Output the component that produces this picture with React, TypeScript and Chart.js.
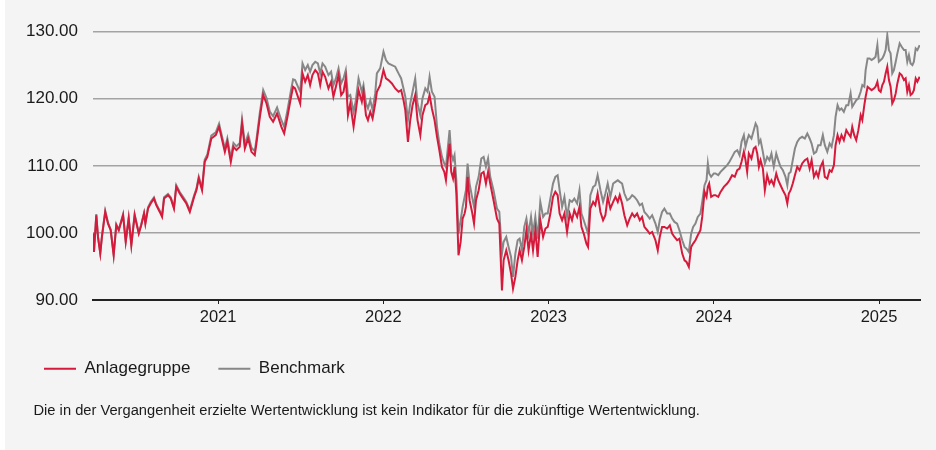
import React, { useEffect, useRef } from "react";
import { Chart, registerables } from "chart.js";

Chart.register(...registerables);

// x positions in decimal years (end of March 2020 .. end of March 2025)
const years: number[] = [
  2020.243, 2020.249, 2020.263, 2020.273, 2020.287, 2020.297, 2020.317, 2020.334, 2020.35, 2020.368,
  2020.384, 2020.399, 2020.425, 2020.441, 2020.459, 2020.475, 2020.495, 2020.52, 2020.535, 2020.552,
  2020.56, 2020.576, 2020.592, 2020.612, 2020.626, 2020.647, 2020.661, 2020.673, 2020.697, 2020.714,
  2020.733, 2020.747, 2020.768, 2020.788, 2020.808, 2020.829, 2020.855, 2020.869, 2020.883, 2020.903,
  2020.919, 2020.935, 2020.959, 2020.986, 2021.006, 2021.02, 2021.041, 2021.056, 2021.077, 2021.093,
  2021.111, 2021.131, 2021.145, 2021.162, 2021.182, 2021.202, 2021.222, 2021.232, 2021.253, 2021.273,
  2021.293, 2021.313, 2021.333, 2021.357, 2021.383, 2021.4, 2021.42, 2021.44, 2021.454,
  2021.466, 2021.497, 2021.511, 2021.527, 2021.543, 2021.557, 2021.571, 2021.588, 2021.604, 2021.618,
  2021.632, 2021.648, 2021.668, 2021.684, 2021.698, 2021.713, 2021.729, 2021.745, 2021.759, 2021.773,
  2021.786, 2021.8, 2021.82, 2021.834, 2021.85, 2021.87, 2021.88, 2021.895, 2021.907, 2021.921,
  2021.935, 2021.951, 2021.961, 2021.981, 2022.001, 2022.016, 2022.031, 2022.052, 2022.072, 2022.092,
  2022.108, 2022.122, 2022.133, 2022.149, 2022.163, 2022.177, 2022.193, 2022.207, 2022.224, 2022.237,
  2022.254, 2022.268, 2022.28, 2022.294, 2022.31, 2022.325, 2022.339, 2022.355, 2022.369, 2022.379,
  2022.391, 2022.401, 2022.411, 2022.422, 2022.431, 2022.442, 2022.455, 2022.468, 2022.48, 2022.492,
  2022.5, 2022.51, 2022.522, 2022.537, 2022.549, 2022.561, 2022.577, 2022.593, 2022.607, 2022.621,
  2022.634, 2022.647, 2022.667, 2022.688, 2022.702,
  2022.718, 2022.728, 2022.744, 2022.758, 2022.773, 2022.785, 2022.799, 2022.813, 2022.825, 2022.839,
  2022.853, 2022.866, 2022.879, 2022.894, 2022.906, 2022.92, 2022.934, 2022.95, 2022.967, 2022.981,
  2022.995, 2023.011, 2023.027, 2023.041, 2023.055, 2023.067, 2023.082, 2023.096, 2023.112, 2023.128,
  2023.142, 2023.156, 2023.173, 2023.187, 2023.199, 2023.213, 2023.229, 2023.239, 2023.253, 2023.27,
  2023.283, 2023.297, 2023.314, 2023.33, 2023.344, 2023.358, 2023.374, 2023.391, 2023.405, 2023.419,
  2023.431, 2023.445, 2023.459, 2023.476, 2023.491, 2023.506, 2023.52, 2023.536, 2023.552, 2023.566,
  2023.58, 2023.597, 2023.612, 2023.627, 2023.647, 2023.661, 2023.673, 2023.687, 2023.701, 2023.718,
  2023.734, 2023.748, 2023.762, 2023.778, 2023.792, 2023.809, 2023.823, 2023.835, 2023.849, 2023.863,
  2023.875, 2023.889, 2023.903, 2023.919, 2023.93, 2023.944, 2023.956, 2023.964, 2023.972, 2023.984,
  2024.0,
  2024.01, 2024.027, 2024.041, 2024.061, 2024.081, 2024.095, 2024.111, 2024.127, 2024.142, 2024.156,
  2024.168, 2024.182, 2024.192, 2024.202, 2024.212, 2024.228, 2024.242, 2024.253, 2024.263, 2024.273,
  2024.283, 2024.297, 2024.309, 2024.323, 2024.337, 2024.349, 2024.363, 2024.378, 2024.39, 2024.404,
  2024.418, 2024.434, 2024.445, 2024.454, 2024.465, 2024.478, 2024.491, 2024.505, 2024.519, 2024.535,
  2024.551, 2024.566, 2024.58, 2024.592, 2024.606, 2024.62, 2024.632, 2024.646, 2024.66, 2024.672,
  2024.687, 2024.701, 2024.713, 2024.727, 2024.737, 2024.749, 2024.761, 2024.773, 2024.787, 2024.802,
  2024.814, 2024.828, 2024.838, 2024.85, 2024.862, 2024.875, 2024.889, 2024.899, 2024.911, 2024.919,
  2024.931, 2024.943, 2024.955, 2024.969, 2024.979, 2024.99, 2024.999, 2025.01, 2025.02, 2025.03,
  2025.04, 2025.05, 2025.06, 2025.07, 2025.08, 2025.09, 2025.101, 2025.111, 2025.125, 2025.137,
  2025.151, 2025.161, 2025.171, 2025.181, 2025.191, 2025.202, 2025.211, 2025.222, 2025.232, 2025.246,
];

const anlagegruppe: number[] = [
  99.9, 97.16, 102.64, 99.4, 96.92, 99.4, 103.13, 101.39, 100.4, 96.67,
  101.14, 100.4, 102.64, 98.66, 102.14, 98.16, 102.64, 99.9, 101.14, 102.89,
  101.39, 103.63, 104.38, 105.12, 104.13, 103.13, 102.39, 105.12, 105.62, 105.12,
  103.63, 106.87, 105.87, 105.12, 104.38, 103.13, 105.37, 106.37, 108.11, 106.37,
  110.6, 111.34, 114.08, 114.58, 115.82, 114.33, 112.09, 113.58, 110.6, 112.84,
  112.34, 112.84, 116.32, 112.59, 114.08, 112.09, 111.59, 113.33, 117.31, 120.55,
  119.3, 117.31, 116.57, 117.81, 115.82, 114.83, 117.31, 120.05, 121.79,
  121.54, 119.3, 123.78, 122.54, 123.53, 122.04, 123.53, 124.28, 123.78, 122.04,
  124.03, 123.28, 121.54, 122.54, 120.3, 121.79, 123.53, 120.55, 121.04, 123.03,
  117.56, 119.3, 115.82, 118.31, 121.29, 119.55, 121.04, 117.56, 116.82, 118.06,
  117.06, 119.3, 121.04, 122.04, 124.28, 123.03, 122.79, 122.29, 121.54, 121.04,
  121.29, 119.8, 118.31, 113.58, 116.82, 119.05, 120.55, 116.82, 114.58, 117.56,
  119.05, 119.3, 120.55, 118.56, 116.82, 114.33, 112.34, 109.85, 109.1, 107.86,
  111.09, 113.33, 109.1, 108.11, 109.85, 105.87, 96.67, 98.66, 102.14, 102.89,
  103.88, 108.36, 104.88, 103.13, 101.39, 104.88, 106.37, 108.86, 109.1, 107.36,
  109.1, 107.36, 104.88, 102.14, 101.39,
  91.44, 95.92, 97.41, 95.92, 93.93, 91.69, 93.43, 95.92, 97.41, 95.92,
  97.91, 100.4, 97.41, 99.9, 97.41, 100.4, 96.42, 101.89, 99.4, 100.65,
  100.9, 102.89, 105.37, 106.12, 105.62, 102.89, 101.89, 102.89, 100.15, 102.89,
  101.89, 103.38, 102.39, 103.88, 100.9, 99.9, 98.41, 97.91, 103.63, 104.63,
  104.13, 105.87, 103.13, 101.89, 102.64, 105.37, 103.63, 104.63, 105.37, 104.63,
  105.62, 104.38, 102.64, 101.14, 102.14, 102.89, 102.39, 102.89, 101.89, 102.39,
  100.9, 100.4, 99.9, 100.15, 98.91, 97.41, 99.4, 100.9, 100.9, 100.65,
  101.14, 99.9, 99.4, 98.91, 99.15, 96.92, 95.92, 95.67, 94.93, 97.91,
  98.41, 98.91, 99.65, 100.4, 102.39, 106.12, 105.37, 106.87, 107.36, 105.37,
  105.62,
  105.62, 105.37, 106.12, 106.87, 107.36, 107.86, 108.61, 108.36, 109.35, 109.6,
  110.6, 112.09, 110.85, 109.1, 111.84, 111.09, 112.59, 112.84, 111.84, 109.85,
  110.85, 109.6, 106.37, 108.61, 107.36, 107.86, 107.11, 108.86, 107.86, 107.11,
  106.37, 105.62, 104.38, 105.87, 106.37, 107.36, 108.61, 109.85, 109.35, 110.35,
  110.85, 111.09, 109.6, 110.85, 108.36, 109.1, 108.36, 109.85, 110.6, 108.36,
  108.11, 109.35, 109.1, 110.1, 113.08, 114.58, 113.58, 114.58, 113.83, 115.32,
  114.83, 114.33, 115.82, 114.58, 113.83, 115.32, 117.56, 116.82, 119.05, 120.3,
  121.79, 121.54, 121.29, 121.54, 121.79, 122.54, 121.29, 121.04, 122.04, 122.54,
  123.78, 124.78, 122.79, 121.79, 119.3, 119.8, 120.8, 122.29, 123.78, 123.53,
  122.79, 123.03, 121.04, 122.04, 120.55, 120.8, 121.29, 123.03, 122.54, 123.28,
];

const benchmark: number[] = [
  100.0, 97.3, 102.8, 99.5, 97.0, 99.5, 103.3, 101.5, 100.5, 96.8,
  101.3, 100.5, 102.8, 98.8, 102.3, 98.3, 102.8, 100.0, 101.3, 103.0,
  101.5, 103.8, 104.6, 105.3, 104.3, 103.3, 102.6, 105.3, 105.8, 105.3,
  103.8, 107.1, 106.1, 105.4, 104.6, 103.4, 105.6, 106.6, 108.4, 106.7,
  110.9, 111.7, 114.5, 115.0, 116.3, 114.8, 112.6, 114.1, 111.2, 113.4,
  112.9, 113.4, 116.9, 113.2, 114.7, 112.7, 112.2, 113.9, 118.0, 121.3,
  120.1, 118.1, 117.4, 118.7, 116.8, 115.8, 118.3, 121.1, 122.9,
  122.79, 121.04, 125.27, 124.28, 125.02, 124.03, 125.02, 125.52, 125.27, 123.78,
  125.27, 124.78, 123.53, 124.03, 122.04, 123.03, 124.53, 122.29, 123.03, 124.28,
  120.3, 120.55, 118.06, 119.8, 123.03, 121.04, 122.04, 119.3, 118.56, 119.8,
  118.31, 120.8, 123.78, 124.53, 127.01, 125.77, 125.27, 125.02, 124.78, 123.78,
  123.03, 121.54, 120.3, 116.82, 119.3, 121.04, 123.03, 119.3, 117.56, 120.05,
  121.54, 121.04, 123.28, 121.04, 120.3, 115.82, 113.33, 111.34, 110.35, 109.85,
  112.84, 115.32, 111.84, 110.85, 111.59, 107.86, 99.9, 101.89, 103.88, 105.37,
  106.37, 110.35, 107.36, 105.37, 103.88, 106.87, 108.36, 111.09, 111.34, 109.85,
  111.09, 108.36, 106.37, 103.63, 103.13,
  96.92, 98.66, 99.4, 97.91, 96.42, 93.43, 96.92, 98.91, 99.15, 97.41,
  100.9, 102.14, 99.9, 102.39, 99.9, 102.39, 99.15, 104.63, 102.39, 102.89,
  102.89, 105.12, 107.36, 108.36, 108.61, 106.37, 103.88, 105.37, 102.39, 104.88,
  104.63, 105.12, 104.38, 106.37, 102.89, 101.89, 100.65, 99.9, 105.62, 106.87,
  107.11, 108.61, 106.37, 104.63, 105.87, 107.36, 105.37, 107.36, 107.61, 107.86,
  107.61, 107.36, 105.87, 104.88, 105.12, 105.62, 105.37, 104.88, 104.13, 104.38,
  103.13, 102.64, 102.14, 102.64, 101.39, 100.15, 101.89, 103.13, 103.63, 102.89,
  102.89, 102.14, 101.64, 101.39, 100.4, 98.91, 97.91, 97.66, 97.16, 99.9,
  100.9, 101.39, 102.39, 102.89, 104.63, 107.11, 107.86, 110.35, 108.86, 108.36,
  108.86,
  108.86, 108.61, 109.1, 109.6, 110.1, 110.6, 111.34, 112.09, 112.34, 111.59,
  113.58, 114.58, 112.84, 113.83, 114.58, 114.08, 115.32, 116.32, 115.82, 113.33,
  113.83, 112.09, 110.35, 111.34, 110.85, 111.84, 109.85, 111.84, 110.85, 109.85,
  109.35, 108.36, 107.11, 108.86, 109.1, 110.85, 112.59, 113.58, 114.08, 114.33,
  114.08, 114.83, 114.08, 113.33, 111.84, 112.09, 113.08, 113.08, 114.58, 113.08,
  112.09, 113.33, 112.84, 114.58, 117.31, 119.05, 118.31, 118.56, 118.06, 119.05,
  119.05, 120.8, 118.81, 119.3, 119.8, 120.05, 121.04, 122.04, 121.79, 124.28,
  126.02, 126.02, 125.77, 126.02, 126.27, 128.01, 125.52, 125.77, 126.02, 126.52,
  127.26, 129.5, 127.26, 126.77, 123.78, 124.28, 125.52, 126.77, 128.26, 127.76,
  127.26, 127.26, 125.52, 126.52, 125.27, 125.02, 125.52, 127.51, 127.26, 128.01,
];

const xTickYears: number[] = [2021, 2022, 2023, 2024, 2025];
const yMin = 90;
const yMax = 130;
const yStep = 10;
const seriesLabels: string[] = ["Anlagegruppe", "Benchmark"];
const footnote =
  "Die in der Vergangenheit erzielte Wertentwicklung ist kein Indikator für die zukünftige Wertentwicklung.";

const FONT = '"Liberation Sans", Arial, sans-serif';
const RED = "#d61a3c";
const GREY = "#878787";
const TEXT = "#1a1a1a";

export default function App() {
  const canvasRef = useRef<HTMLCanvasElement | null>(null);

  useEffect(() => {
    document.body.style.margin = "0";
    const canvas = canvasRef.current;
    if (!canvas) return;
    const chart = new Chart(canvas, {
      type: "line",
      data: {
        datasets: [
          {
            label: seriesLabels[0],
            data: years.map((x, i) => ({ x, y: anlagegruppe[i] })),
            borderColor: RED,
            backgroundColor: RED,
            borderWidth: 2,
            pointRadius: 0,
            tension: 0,
          },
          {
            label: seriesLabels[1],
            data: years.map((x, i) => ({ x, y: benchmark[i] })),
            borderColor: GREY,
            backgroundColor: GREY,
            borderWidth: 2,
            pointRadius: 0,
            tension: 0,
          },
        ],
      },
      options: {
        animation: false,
        responsive: false,
        devicePixelRatio: 1,
        layout: { padding: { top: 31.7, left: 11, right: 16, bottom: 62.8 } },
        plugins: {
          legend: {
            display: true,
            position: "bottom",
            align: "start",
            labels: {
              usePointStyle: true,
              pointStyle: "line",
              pointStyleWidth: 32,
              boxWidth: 32,
              boxHeight: 17,
              padding: 28,
              color: TEXT,
              font: { family: FONT, size: 17 },
            },
          },
          tooltip: { enabled: false },
          title: { display: false },
        },
        scales: {
          x: {
            type: "linear",
            min: 2020.243,
            max: 2025.248,
            afterBuildTicks: (scale: any) => {
              scale.ticks = xTickYears.map((v) => ({ value: v }));
            },
            afterFit: (scale: any) => {
              scale.height = 32.2;
            },
            ticks: {
              callback: (v: any) => String(v),
              color: TEXT,
              font: { family: FONT, size: 16.5 },
              padding: 4,
              maxRotation: 0,
              autoSkip: false,
            },
            grid: {
              drawOnChartArea: false,
              drawTicks: true,
              tickLength: 4,
              color: "#222222",
              lineWidth: 1,
            },
            border: { display: true, color: "#222222", width: 2 },
          },
          y: {
            type: "linear",
            min: yMin,
            max: yMax,
            afterFit: (scale: any) => {
              scale.width = 77;
            },
            ticks: {
              stepSize: yStep,
              callback: (v: any) => Number(v).toFixed(2),
              color: TEXT,
              font: { family: FONT, size: 17 },
              padding: 15,
            },
            grid: {
              drawTicks: false,
              color: "#a3a3a3",
              lineWidth: 1.6,
            },
            border: { display: false },
          },
        },
      },
    });
    return () => chart.destroy();
  }, []);

  return (
    <div
      style={{
        position: "absolute",
        left: 5,
        top: 0,
        width: 931,
        height: 450,
        background: "#f4f4f4",
        overflow: "hidden",
      }}
    >
      <canvas
        ref={canvasRef}
        width={931}
        height={450}
        style={{ position: "absolute", left: 0, top: 0, width: 931, height: 450 }}
      />
      <div
        style={{
          position: "absolute",
          left: 28.5,
          top: 401,
          fontFamily: FONT,
          fontSize: 14.7,
          lineHeight: "18px",
          color: TEXT,
          whiteSpace: "nowrap",
        }}
      >
        {footnote}
      </div>
    </div>
  );
}
